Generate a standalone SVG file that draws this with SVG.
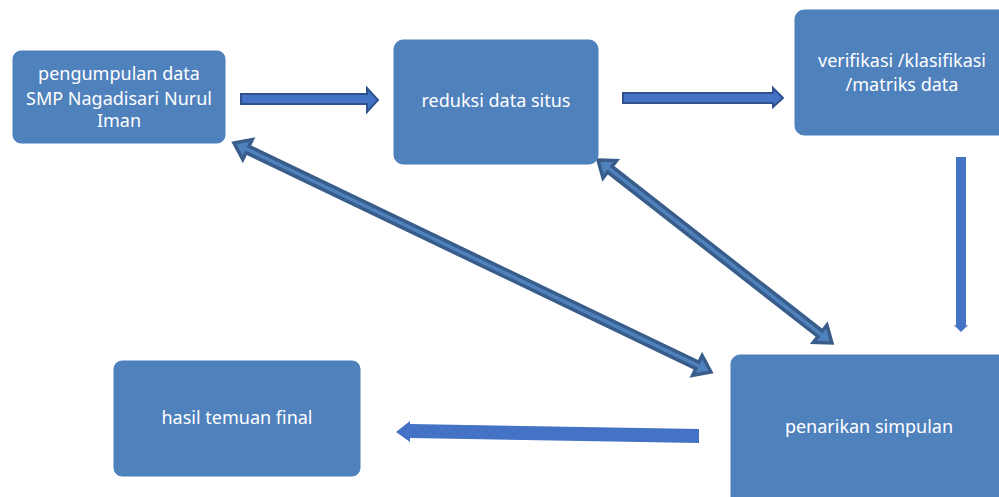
<svg xmlns="http://www.w3.org/2000/svg" width="999" height="497" viewBox="0 0 999 497">
<style>
.box{fill:#4F81BD;stroke:#4A7EBB;stroke-width:1}
.lbl{font-family:"Noto Sans","Liberation Sans",sans-serif;font-size:18px;fill:#FFFFFF;text-anchor:middle}
.a1{fill:#4472C4;stroke:#2F528F;stroke-width:2}
.a2{fill:#4F81BD;stroke:#385D8A;stroke-width:3.5;stroke-linejoin:miter}
.a3{fill:#4472C4;stroke:none}
</style>
<rect width="999" height="497" fill="#FFFFFF"/>
<g id="connectors">
  <polygon class="a1" points="241,94 367,94 367,88 378,100 367,112 367,104 241,104"/>
  <polygon class="a1" points="623,93 773,93 773,88 783,98 773,107 773,103 623,103"/>
  <polygon class="a3" points="956,157 966,157 966,325 968,325 961,332 954,325 956,325"/>
  <polygon class="a3" points="699,429 699,443 410,438 410,442 396,432 410,421 410,424"/>
  <g transform="translate(234,143) rotate(25.64)">
    <polygon class="a2" points="0,0 15,-11 15,-3.5 514,-3.5 514,-11 529,0 514,11 514,3.5 15,3.5 15,11"/>
  </g>
  <g transform="translate(598,160) rotate(38.03)">
    <polygon class="a2" points="0,0 15,-11 15,-3.5 282,-3.5 282,-11 297,0 282,11 282,3.5 15,3.5 15,11"/>
  </g>
</g>
<g id="node-pengumpulan">
  <rect class="box" x="13" y="51" width="212" height="92" rx="8"/>
  <text class="lbl" x="119" y="80">pengumpulan data</text>
  <text class="lbl" x="119" y="105">SMP Nagadisari Nurul</text>
  <text class="lbl" x="119" y="127">Iman</text>
</g>
<g id="node-reduksi">
  <rect class="box" x="394" y="40" width="204" height="124" rx="9"/>
  <text class="lbl" x="496" y="107">reduksi data situs</text>
</g>
<g id="node-verifikasi">
  <rect class="box" x="795" y="10" width="220" height="125" rx="9"/>
  <text class="lbl" x="902" y="67">verifikasi /klasifikasi</text>
  <text class="lbl" x="902" y="91">/matriks data</text>
</g>
<g id="node-penarikan">
  <rect class="box" x="731" y="355" width="290" height="160" rx="9"/>
  <text class="lbl" x="869" y="433">penarikan simpulan</text>
</g>
<g id="node-hasil">
  <rect class="box" x="114" y="361" width="246" height="115" rx="8"/>
  <text class="lbl" x="237" y="424">hasil temuan final</text>
</g>
</svg>
